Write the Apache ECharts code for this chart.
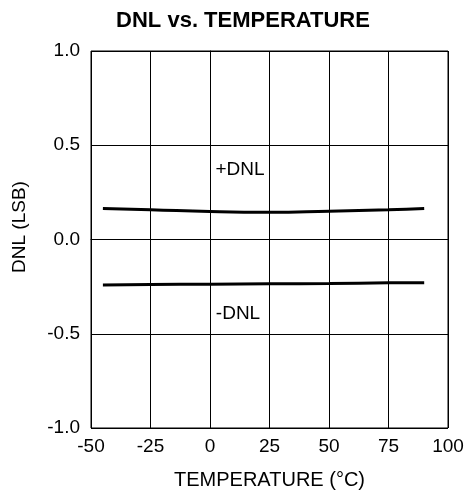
<!DOCTYPE html>
<html>
<head>
<meta charset="utf-8">
<script src="https://cdn.jsdelivr.net/npm/echarts@6/dist/echarts.min.js"></script>
<style>
  html, body { margin: 0; padding: 0; background: #fff; }
  #main { width: 470px; height: 495px; }
</style>
</head>
<body>
<div id="main"></div>
<script>
// temperature (°C) sample points
const temps = [-45, -25, 0, 25, 50, 75, 90]
// DNL (LSB)
const dnlPos = [0.165, 0.158, 0.148, 0.144, 0.150, 0.158, 0.165]
const dnlNeg = [-0.241, -0.239, -0.237, -0.235, -0.233, -0.230, -0.229]

const font = 'Liberation Sans, Arial, sans-serif'

const toPairs = (xs, ys) => xs.map((x, i) => [x, ys[i]])

const myChart = echarts.init(document.getElementById('main'))
const option = {
  animation: false,
  title: {
    text: 'DNL vs. TEMPERATURE',
    left: 238,
    top: 5,
    textAlign: 'center',
    textStyle: { fontFamily: font, fontSize: 22, fontWeight: 'bold', color: '#000' },
  },
  grid: { left: 91, right: 22, top: 51, bottom: 67 },
  xAxis: {
    type: 'value',
    min: -50,
    max: 100,
    interval: 25,
    name: 'TEMPERATURE (°C)',
    nameLocation: 'middle',
    nameGap: 42,
    nameTextStyle: { fontFamily: font, fontSize: 20, color: '#000' },
    axisLine: { show: true, lineStyle: { color: '#000', width: 1 } },
    axisTick: { show: false },
    axisLabel: { fontFamily: font, fontSize: 19, color: '#000', margin: 9 },
    splitLine: { show: true, lineStyle: { color: '#000', width: 1 } },
  },
  yAxis: {
    type: 'value',
    min: -1,
    max: 1,
    interval: 0.5,
    axisLine: { show: true, lineStyle: { color: '#000', width: 1 } },
    axisTick: { show: false },
    axisLabel: {
      fontFamily: font, fontSize: 19, color: '#000', margin: 11,
      formatter: (v) => v.toFixed(1),
    },
    splitLine: { show: true, lineStyle: { color: '#000', width: 1 } },
  },
  graphic: [
    {
      type: 'rect',
      shape: { x: 91, y: 51, width: 357, height: 377 },
      style: { fill: 'none', stroke: '#000', lineWidth: 1 },
      z: 10,
    },
    {
      type: 'text',
      x: 20, y: 227, rotation: Math.PI / 2,
      style: { text: 'DNL (LSB)', font: '19px ' + font, fill: '#000', align: 'center', verticalAlign: 'middle' },
    },
    {
      type: 'text',
      x: 240, y: 170,
      style: { text: '+DNL', font: '19px ' + font, fill: '#000', align: 'center', verticalAlign: 'middle' },
    },
    {
      type: 'text',
      x: 238, y: 314,
      style: { text: '-DNL', font: '19px ' + font, fill: '#000', align: 'center', verticalAlign: 'middle' },
    },
  ],
  series: [
    {
      name: '+DNL',
      type: 'line',
      data: toPairs(temps, dnlPos),
      smooth: true,
      showSymbol: false,
      lineStyle: { color: '#000', width: 3 },
    },
    {
      name: '-DNL',
      type: 'line',
      data: toPairs(temps, dnlNeg),
      smooth: true,
      showSymbol: false,
      lineStyle: { color: '#000', width: 3 },
    },
  ],
}
myChart.setOption(option)
</script>
</body>
</html>
